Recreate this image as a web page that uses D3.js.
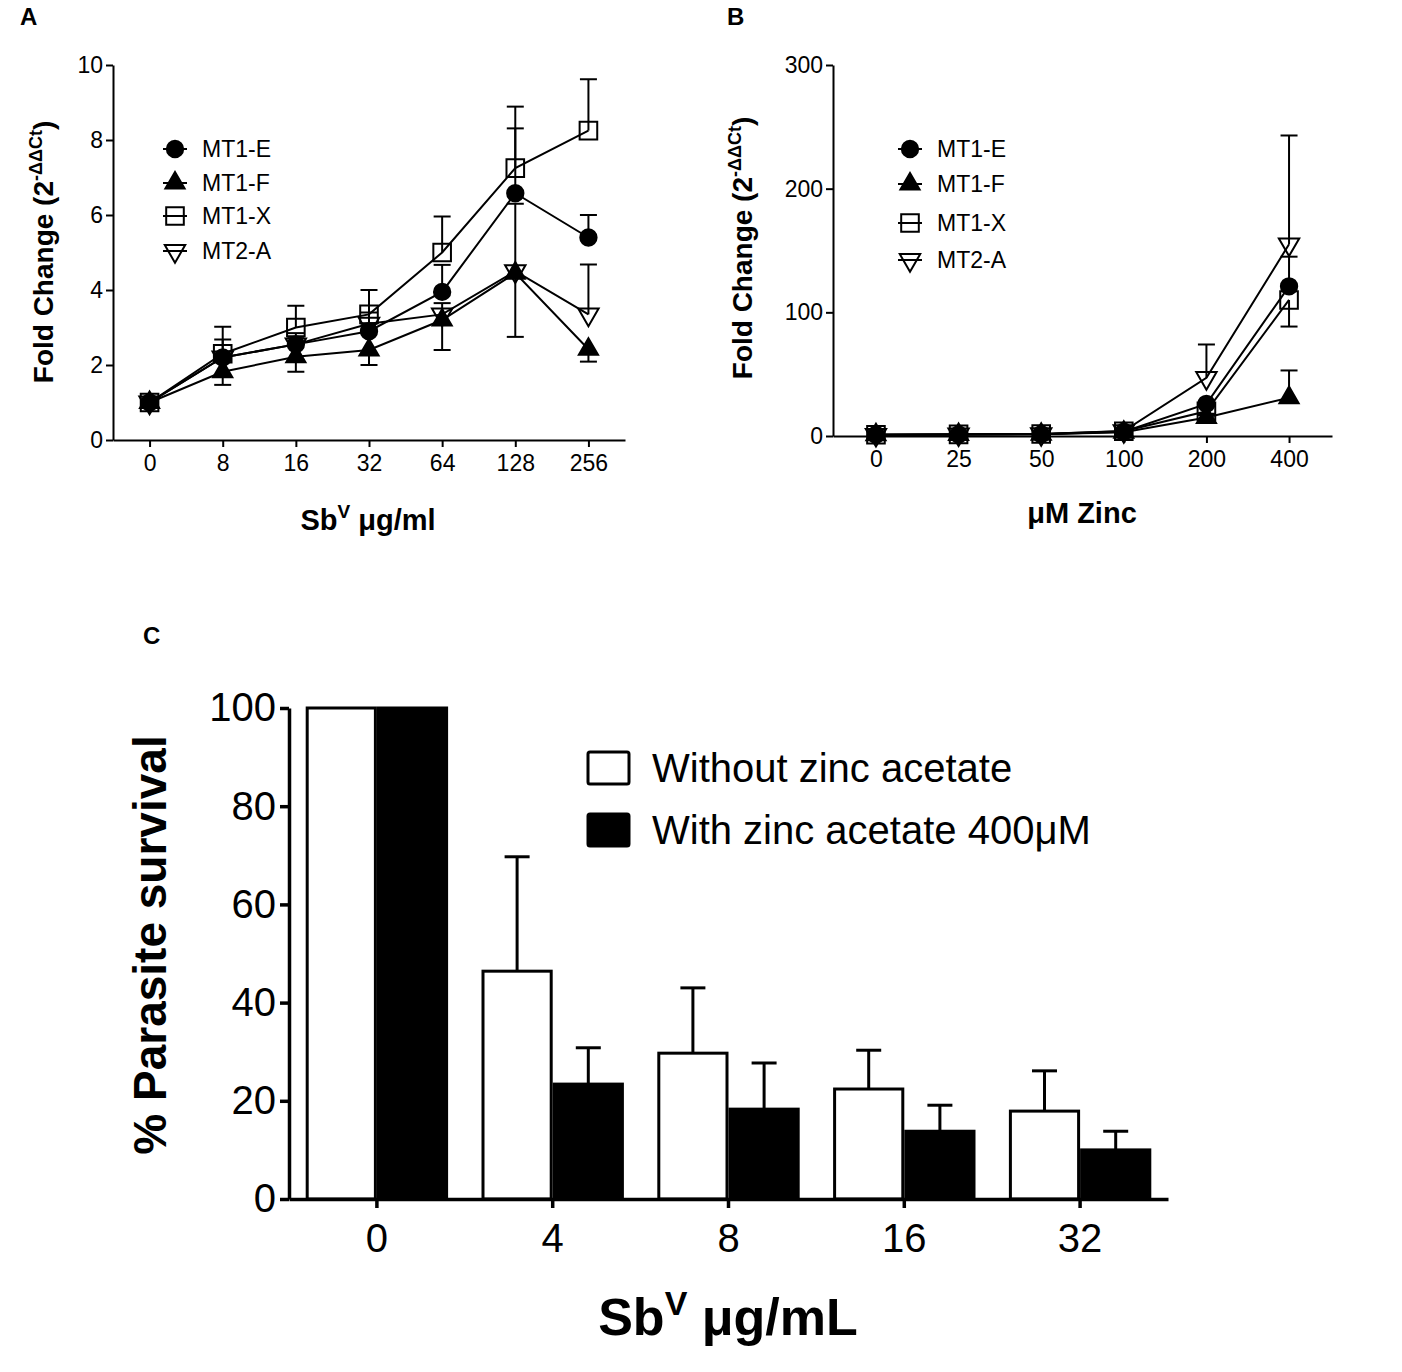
<!DOCTYPE html>
<html>
<head>
<meta charset="utf-8">
<script src="https://cdn.jsdelivr.net/npm/d3@7"></script>
<style>
  body { margin: 0; background: #fff; }
  text { font-family: "Liberation Sans", Arial, sans-serif; fill: #000; }
</style>
</head>
<body>
<svg id="fig" width="1402" height="1372"></svg>
<script>
// ---- panel A : Sb(V) dose series ----
const seriesNames = ["MT1-E", "MT1-F", "MT1-X", "MT2-A"];
const aDoses = ["0", "8", "16", "32", "64", "128", "256"];
const aMT1E = [1.0, 2.2, 2.55, 2.9, 3.95, 6.58, 5.4];
const aMT1F = [1.0, 1.82, 2.22, 2.4, 3.2, 4.45, 2.42];
const aMT1X = [1.0, 2.3, 3.0, 3.35, 5.0, 7.25, 8.25];
const aMT2A = [1.0, 2.2, 2.55, 3.1, 3.35, 4.5, 3.35];
const aErrE = [0, 0.1, 0.2, 0.2, 0.72, 1.73, 0.6];
const aErrF = [0, 0.35, 0.4, 0.4, 0.8, 1.7, 0.33];
const aErrX = [0, 0.72, 0.58, 0.65, 0.96, 1.64, 1.37];
const aErr2A = [0, 0.48, 0.3, 0.3, 0.3, 1.8, 1.33];
const aYTicks = [0, 2, 4, 6, 8, 10];

// ---- panel B : zinc dose series ----
const bDoses = ["0", "25", "50", "100", "200", "400"];
const bMT1E = [1, 1.3, 1.5, 3.5, 26, 121];
const bMT1F = [1, 1.2, 1.4, 3, 15, 31];
const bMT1X = [1, 1.3, 1.6, 3.8, 20, 110];
const bMT2A = [1, 1.4, 1.6, 4, 47, 155];
const bErrE = [0, 0, 0, 0, 2, 24];
const bErrF = [0, 0, 0, 0, 2, 22];
const bErrX = [0, 0, 0, 0, 2, 21.5];
const bErr2A = [0, 0, 0, 0, 27, 88];
const bYTicks = [0, 100, 200, 300];

// ---- panel C : survival bars ----
const cDoses = ["0", "4", "8", "16", "32"];
const cGroups = ["Without zinc acetate", "With zinc acetate 400μM"];
const cWithout = [100, 46.4, 29.7, 22.4, 17.9];
const cWith = [100, 23.4, 18.3, 13.8, 10.0];
const cErrWithout = [0, 23.3, 13.3, 7.9, 8.2];
const cErrWith = [0, 7.4, 9.4, 5.3, 3.8];
const cYTicks = [0, 20, 40, 60, 80, 100];

const svg = d3.select("#fig");

const shapes = {
  "MT1-E": { sym: d3.symbolCircle, size: 210, fill: "#000", rot: 0 },
  "MT1-F": { sym: d3.symbolTriangle, size: 160, fill: "#000", rot: 0 },
  "MT1-X": { sym: d3.symbolSquare, size: 310, fill: "none", rot: 0 },
  "MT2-A": { sym: d3.symbolTriangle, size: 180, fill: "none", rot: 180 }
};

function marker(g, name, x, y) {
  const s = shapes[name];
  g.append("path")
    .attr("d", d3.symbol(s.sym, s.size)())
    .attr("transform", `translate(${x},${y}) rotate(${s.rot})`)
    .attr("fill", s.fill)
    .attr("stroke", "#000")
    .attr("stroke-width", 2);
}

function styleAxis(g, fontSize, width) {
  g.select(".domain").attr("stroke-width", width);
  g.selectAll(".tick line").attr("stroke-width", width);
  g.selectAll(".tick text")
    .attr("font-size", fontSize)
    .attr("font-family", "'Liberation Sans', Arial, sans-serif");
}

// shared drawing for the two line panels
function linePanel(p) {
  const g = svg.append("g");
  const x = d3.scalePoint().domain(p.doses).range([p.left, p.right]).padding(p.pad);
  const y = d3.scaleLinear().domain([0, p.ymax]).range([p.bottom, p.top]);

  g.append("g")
    .attr("transform", `translate(0,${p.bottom})`)
    .call(d3.axisBottom(x).tickSize(7).tickSizeOuter(0).tickPadding(8))
    .call(a => styleAxis(a, 23, 2));
  g.append("g")
    .attr("transform", `translate(${p.left},0)`)
    .call(d3.axisLeft(y).tickValues(p.yTicks).tickSize(7).tickSizeOuter(0).tickPadding(3))
    .call(a => styleAxis(a, 23, 2));

  const line = d3.line().x((d, i) => x(p.doses[i])).y(d => y(d));
  p.series.forEach(s => {
    g.append("path").attr("d", line(s.values))
      .attr("fill", "none").attr("stroke", "#000").attr("stroke-width", 2);
  });
  p.series.forEach(s => {
    s.values.forEach((v, i) => {
      if (!s.err[i]) return;
      const cx = x(p.doses[i]);
      const ye = y(v + s.side * s.err[i]);
      g.append("line").attr("x1", cx).attr("x2", cx).attr("y1", y(v)).attr("y2", ye)
        .attr("stroke", "#000").attr("stroke-width", 2);
      g.append("line").attr("x1", cx - 8.5).attr("x2", cx + 8.5).attr("y1", ye).attr("y2", ye)
        .attr("stroke", "#000").attr("stroke-width", 2);
    });
  });
  ["MT1-X", "MT2-A", "MT1-F", "MT1-E"].forEach(n => {
    const s = p.series.find(d => d.name === n);
    s.values.forEach((v, i) => marker(g, n, x(p.doses[i]), y(v)));
  });

  // legend
  seriesNames.forEach((n, i) => {
    const ly = p.legY[i];
    g.append("line").attr("x1", p.legX - 12).attr("x2", p.legX + 12)
      .attr("y1", ly).attr("y2", ly).attr("stroke", "#000").attr("stroke-width", 2);
    marker(g, n, p.legX, ly);
    g.append("text").attr("x", p.legX + 27).attr("y", ly + 8)
      .attr("font-size", 23).text(n);
  });

  g.append("text").attr("x", p.tagX).attr("y", 25)
    .attr("font-size", 24).attr("font-weight", "bold").text(p.tag);

  const yl = g.append("text")
    .attr("transform", `translate(${p.ylX},${p.ylY}) rotate(-90)`)
    .attr("text-anchor", "middle").attr("font-size", 28).attr("font-weight", "bold");
  yl.append("tspan").text("Fold Change (2");
  yl.append("tspan").attr("dy", -11).attr("font-size", 18).text("-ΔΔCt");
  yl.append("tspan").attr("dy", 11).text(")");

  const xl = g.append("text")
    .attr("x", p.xlX).attr("y", p.xlY)
    .attr("text-anchor", "middle").attr("font-size", 29).attr("font-weight", "bold");
  p.xlabel(xl);
}

linePanel({
  doses: aDoses, left: 113, right: 625, pad: 0.5, top: 65, bottom: 440, ymax: 10, yTicks: aYTicks,
  series: [
    { name: "MT1-E", values: aMT1E, err: aErrE, side: 1 },
    { name: "MT1-F", values: aMT1F, err: aErrF, side: -1 },
    { name: "MT1-X", values: aMT1X, err: aErrX, side: 1 },
    { name: "MT2-A", values: aMT2A, err: aErr2A, side: 1 }
  ],
  legX: 175, legY: [149, 183, 216, 251],
  tag: "A", tagX: 20, ylX: 53, ylY: 252, xlX: 368, xlY: 530,
  xlabel: t => {
    t.append("tspan").text("Sb");
    t.append("tspan").attr("dy", -12).attr("font-size", 19).text("V");
    t.append("tspan").attr("dy", 12).text(" μg/ml");
  }
});

linePanel({
  doses: bDoses, left: 833, right: 1332, pad: 0.52, top: 65, bottom: 436, ymax: 300, yTicks: bYTicks,
  series: [
    { name: "MT1-E", values: bMT1E, err: bErrE, side: 1 },
    { name: "MT1-F", values: bMT1F, err: bErrF, side: 1 },
    { name: "MT1-X", values: bMT1X, err: bErrX, side: -1 },
    { name: "MT2-A", values: bMT2A, err: bErr2A, side: 1 }
  ],
  legX: 910, legY: [149, 184, 223, 260],
  tag: "B", tagX: 727, ylX: 752, ylY: 248, xlX: 1082, xlY: 523,
  xlabel: t => t.text("μM Zinc")
});

// ---- panel C ----
(function () {
  const g = svg.append("g");
  const left = 289, right = 1168, top = 708, bottom = 1199;
  const x = d3.scaleBand().domain(cDoses).range([left, right]).paddingInner(0.19).paddingOuter(0.095);
  const xs = d3.scaleBand().domain(cGroups).range([0, x.bandwidth()]);
  const y = d3.scaleLinear().domain([0, 100]).range([bottom, top]);
  const vals = [cWithout, cWith];
  const errs = [cErrWithout, cErrWith];
  const fills = ["#fff", "#000"];

  cGroups.forEach((grp, k) => {
    cDoses.forEach((d, i) => {
      const bx = x(d) + xs(grp);
      const v = vals[k][i];
      g.append("rect")
        .attr("x", bx + 1.5).attr("y", y(v))
        .attr("width", xs.bandwidth() - 3).attr("height", y(0) - y(v))
        .attr("fill", fills[k]).attr("stroke", "#000").attr("stroke-width", 3);
      if (errs[k][i]) {
        const cx = bx + xs.bandwidth() / 2;
        const ye = y(v + errs[k][i]);
        g.append("line").attr("x1", cx).attr("x2", cx).attr("y1", y(v)).attr("y2", ye)
          .attr("stroke", "#000").attr("stroke-width", 3);
        g.append("line").attr("x1", cx - 12.5).attr("x2", cx + 12.5).attr("y1", ye).attr("y2", ye)
          .attr("stroke", "#000").attr("stroke-width", 3);
      }
    });
  });

  g.append("g")
    .attr("transform", `translate(0,${bottom})`)
    .call(d3.axisBottom(x).tickSize(9).tickSizeOuter(0).tickPadding(16))
    .call(a => styleAxis(a, 40, 3.5));
  g.append("g")
    .attr("transform", `translate(${left},0)`)
    .call(d3.axisLeft(y).tickValues(cYTicks).tickSize(9).tickSizeOuter(0).tickPadding(4))
    .call(a => styleAxis(a, 40, 3.5));

  // legend
  const legY = [768, 830];
  cGroups.forEach((grp, k) => {
    g.append("rect").attr("x", 588).attr("y", legY[k] - 16).attr("width", 41).attr("height", 32)
      .attr("rx", 2).attr("fill", fills[k]).attr("stroke", "#000").attr("stroke-width", 3);
    g.append("text").attr("x", 652).attr("y", legY[k] + 14)
      .attr("font-size", 40).text(grp);
  });

  g.append("text").attr("x", 143).attr("y", 644)
    .attr("font-size", 24).attr("font-weight", "bold").text("C");

  g.append("text")
    .attr("transform", `translate(166,945) rotate(-90)`)
    .attr("text-anchor", "middle").attr("font-size", 46).attr("font-weight", "bold")
    .text("% Parasite survival");

  const xl = g.append("text").attr("x", 728).attr("y", 1335)
    .attr("text-anchor", "middle").attr("font-size", 52).attr("font-weight", "bold");
  xl.append("tspan").text("Sb");
  xl.append("tspan").attr("dy", -20).attr("font-size", 34).text("V");
  xl.append("tspan").attr("dy", 20).text(" μg/mL");
})();
</script>
</body>
</html>
